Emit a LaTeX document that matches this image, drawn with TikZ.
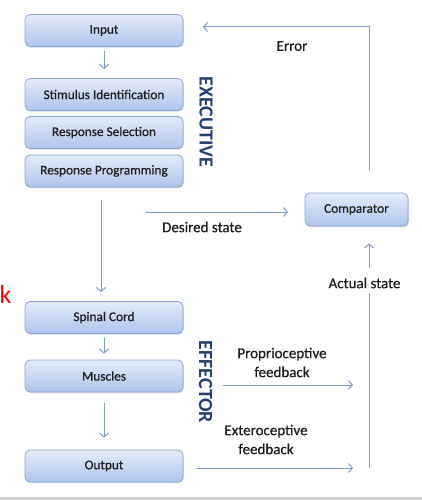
\documentclass[tikz,border=0pt]{standalone}
\usepackage{fontspec}
\setmainfont{Carlito}
\newfontfamily\semib[FakeBold=0.6]{Carlito}
\usetikzlibrary{arrows.meta,shadows}
\definecolor{arr}{HTML}{7F9BC9}
\definecolor{bord}{HTML}{8AA6D6}
\definecolor{btop}{HTML}{E4ECF9}
\definecolor{bbot}{HTML}{AFC4EC}
\definecolor{navy}{HTML}{24406F}
\definecolor{txt}{HTML}{1E1E1E}
\tikzset{
 box/.style={draw=bord, line width=0.8pt, rounded corners=5pt, top color=btop, bottom color=bbot,
   minimum width=158pt, minimum height=32pt, inner sep=0pt, font=\semib\fontsize{13.3}{15}\selectfont, text=txt,
   drop shadow={shadow xshift=0.8pt, shadow yshift=-1.2pt, opacity=0.3}},
 conn/.style={draw=arr, line width=1pt, -{Straight Barb[length=4pt,width=9pt]}},
 plain/.style={draw=arr, line width=1pt},
 lab/.style={font=\semib\fontsize{15}{19}\selectfont, text=txt, align=center, inner sep=0pt},
 big/.style={font=\fontsize{20}{24}\selectfont\bfseries, text=navy, rotate=-90, inner sep=0pt},
}
\begin{document}
\begin{tikzpicture}[x=1pt,y=-1pt]
\useasboundingbox (0,0) rectangle (422,500);
\fill[gray!35] (0,497) rectangle (422,500);
% boxes
\node[box] (input) at (104,30.5) {Input};
\node[box] (stim) at (104,94.5) {Stimulus Identification};
\node[box] (sel) at (104,132.5) {Response Selection};
\node[box] (prog) at (104,171) {Response Programming};
\node[box] (spinal) at (104,317.5) {Spinal Cord};
\node[box] (mus) at (104,376) {Muscles};
\node[box] (out) at (104,466) {Output};
\node[box, minimum width=103pt, minimum height=33pt] (comp) at (356.5,209.5) {Comparator};
% side titles
\node[big] (exec) at (206,122) {EXECUTIVE};
\node[big] (eff) at (205.5,382) {EFFECTOR};
\node[text=red, font=\fontsize{26}{28}\selectfont, anchor=base west, inner sep=0pt] (kk) at (-0.5,303) {k};
% vertical connectors
\draw[conn] ([yshift=-4pt]input.south) -- ([yshift=9pt]stim.north);
\draw[conn] ([xshift=-3pt,yshift=-13pt]prog.south) -- ([xshift=-3pt,yshift=9pt]spinal.north);
\draw[conn] ([yshift=-4pt]spinal.south) -- ([yshift=6pt]mus.north);
\draw[conn] ([yshift=-11pt]mus.south) -- ([yshift=12pt]out.north);
% desired state
\coordinate (dsA) at (146,212);
\coordinate (dsB) at (288,212);
\draw[conn] (dsA) -- (dsB);
\node[lab] (dsl) at (202,227) {Desired state};
% error loop
\coordinate (errEnd) at (203,27);
\draw[conn] ([xshift=12.5pt,yshift=23pt]comp.north) |- (errEnd);
\node[lab] (errl) at (292,46) {Error};
% actual state
\coordinate (actBot) at (369,468);
\coordinate (actMid) at (369,293);
\coordinate (actUp) at (369,268);
\draw[plain] (actBot) -- (actMid);
\draw[conn] (actUp) -- ([xshift=12.5pt,yshift=-17pt]comp.south);
\node[lab] (actl) at (364.5,283) {Actual state};
% feedback
\coordinate (prA) at (223,385);
\coordinate (prB) at (353,385);
\draw[conn] (prA) -- (prB);
\node[lab] (prl) at (282,362.5) {Proprioceptive\\feedback};
\coordinate (exB) at (353,468);
\draw[conn] ([xshift=14pt,yshift=-2pt]out.east) -- (exB);
\node[lab] (exl) at (266,439.5) {Exteroceptive\\feedback};
\end{tikzpicture}
\end{document}
